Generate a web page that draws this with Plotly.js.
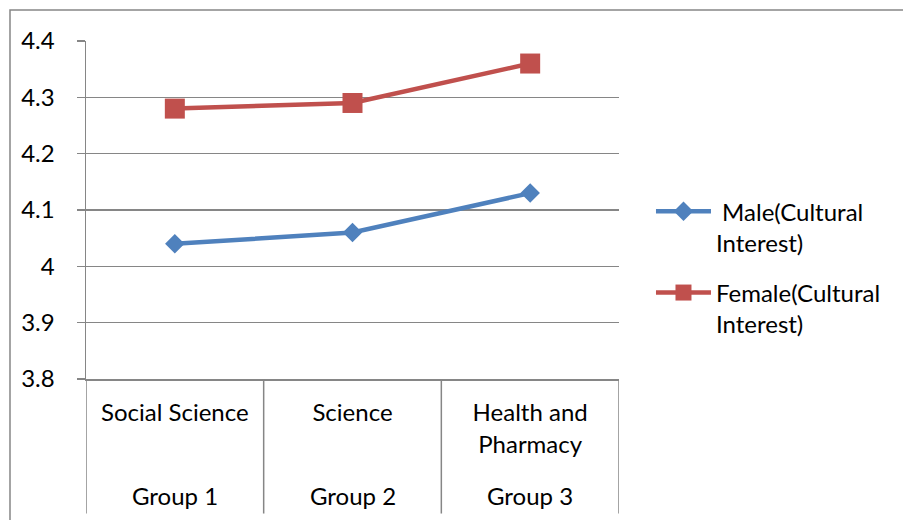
<!DOCTYPE html>
<html>
<head>
<meta charset="utf-8">
<script src="https://cdn.plot.ly/plotly-3.0.1.min.js"></script>
<style>
  html, body { margin: 0; padding: 0; background: #fff; }
  #chart { width: 903px; height: 520px; }
</style>
</head>
<body>
<div id="chart"></div>
<script>
const categories = ["Social Science", "Science", "Health and<br>Pharmacy"];
const groups = ["Group 1", "Group 2", "Group 3"];
const maleValues = [4.04, 4.06, 4.13];
const femaleValues = [4.28, 4.29, 4.36];
const seriesNames = ["\u00a0Male(Cultural<br>Interest)", "Female(Cultural<br>Interest)"];
const yTicks = [3.8, 3.9, 4.0, 4.1, 4.2, 4.3, 4.4];

const FONT = "Lato, 'Open Sans', sans-serif";
const FS = 24;
const GRID = "#868686";
const idx = categories.map((_, i) => i);

const traces = [
  {
    x: idx, y: maleValues, name: seriesNames[0], type: "scatter", mode: "lines+markers",
    legendgroup: "m",
    line: { color: "#4F81BD", width: 4.5 },
    marker: { symbol: "diamond", size: 15, color: "#4F81BD" }
  },
  {
    x: idx, y: femaleValues, name: seriesNames[1], type: "scatter", mode: "lines+markers",
    legendgroup: "f",
    line: { color: "#C0504D", width: 4.5 },
    marker: { symbol: "square", size: 20, color: "#C0504D" }
  }
];

const shapes = [];
for (let i = 0; i <= categories.length; i++) {
  shapes.push({
    type: "line", xref: "x", yref: "paper",
    x0: i - 0.5, x1: i - 0.5, y0: 0, y1: -0.398,
    line: { color: GRID, width: 1.5 }
  });
}
shapes.push({
  type: "rect", xref: "paper", yref: "paper",
  x0: -0.1426, x1: 1.54, y0: -0.5, y1: 1.092,
  line: { color: GRID, width: 1.5 }, fillcolor: "rgba(0,0,0,0)"
});

const annotations = groups.map((g, i) => ({
  text: g, xref: "x", yref: "paper", x: i, y: -0.346,
  xanchor: "center", yanchor: "middle", showarrow: false,
  font: { family: FONT, size: FS, color: "#000" }
}));

const layout = {
  width: 903, height: 520,
  margin: { l: 86, r: 284, t: 41, b: 141 },
  paper_bgcolor: "#fff", plot_bgcolor: "#fff",
  font: { family: FONT, size: FS, color: "#000" },
  showlegend: true,
  legend: {
    x: 1.06, y: 0.562, xanchor: "left", yanchor: "top",
    itemwidth: 55, valign: "top", traceorder: "grouped", tracegroupgap: 16,
    font: { family: FONT, size: FS, color: "#000" },
    bgcolor: "rgba(0,0,0,0)"
  },
  xaxis: {
    type: "linear", range: [-0.5, categories.length - 0.5],
    tickmode: "array", tickvals: idx, ticktext: categories,
    showgrid: false, zeroline: false, showline: true, linecolor: GRID, linewidth: 1.5,
    ticks: "", ticklabelstandoff: 12,
    tickfont: { family: FONT, size: FS, color: "#000" }
  },
  yaxis: {
    range: [3.8, 4.4], tickmode: "array", tickvals: yTicks,
    ticktext: yTicks.map(v => String(+v.toFixed(1))),
    showgrid: true, gridcolor: GRID, gridwidth: 1.5, zeroline: false,
    showline: true, linecolor: GRID, linewidth: 1.5,
    ticks: "outside", ticklen: 8, tickcolor: GRID, tickwidth: 1.5,
    ticklabelstandoff: 17,
    tickfont: { family: FONT, size: FS, color: "#000" }
  },
  shapes: shapes,
  annotations: annotations
};

Plotly.newPlot("chart", traces, layout, { displayModeBar: false, staticPlot: true });
</script>
</body>
</html>
